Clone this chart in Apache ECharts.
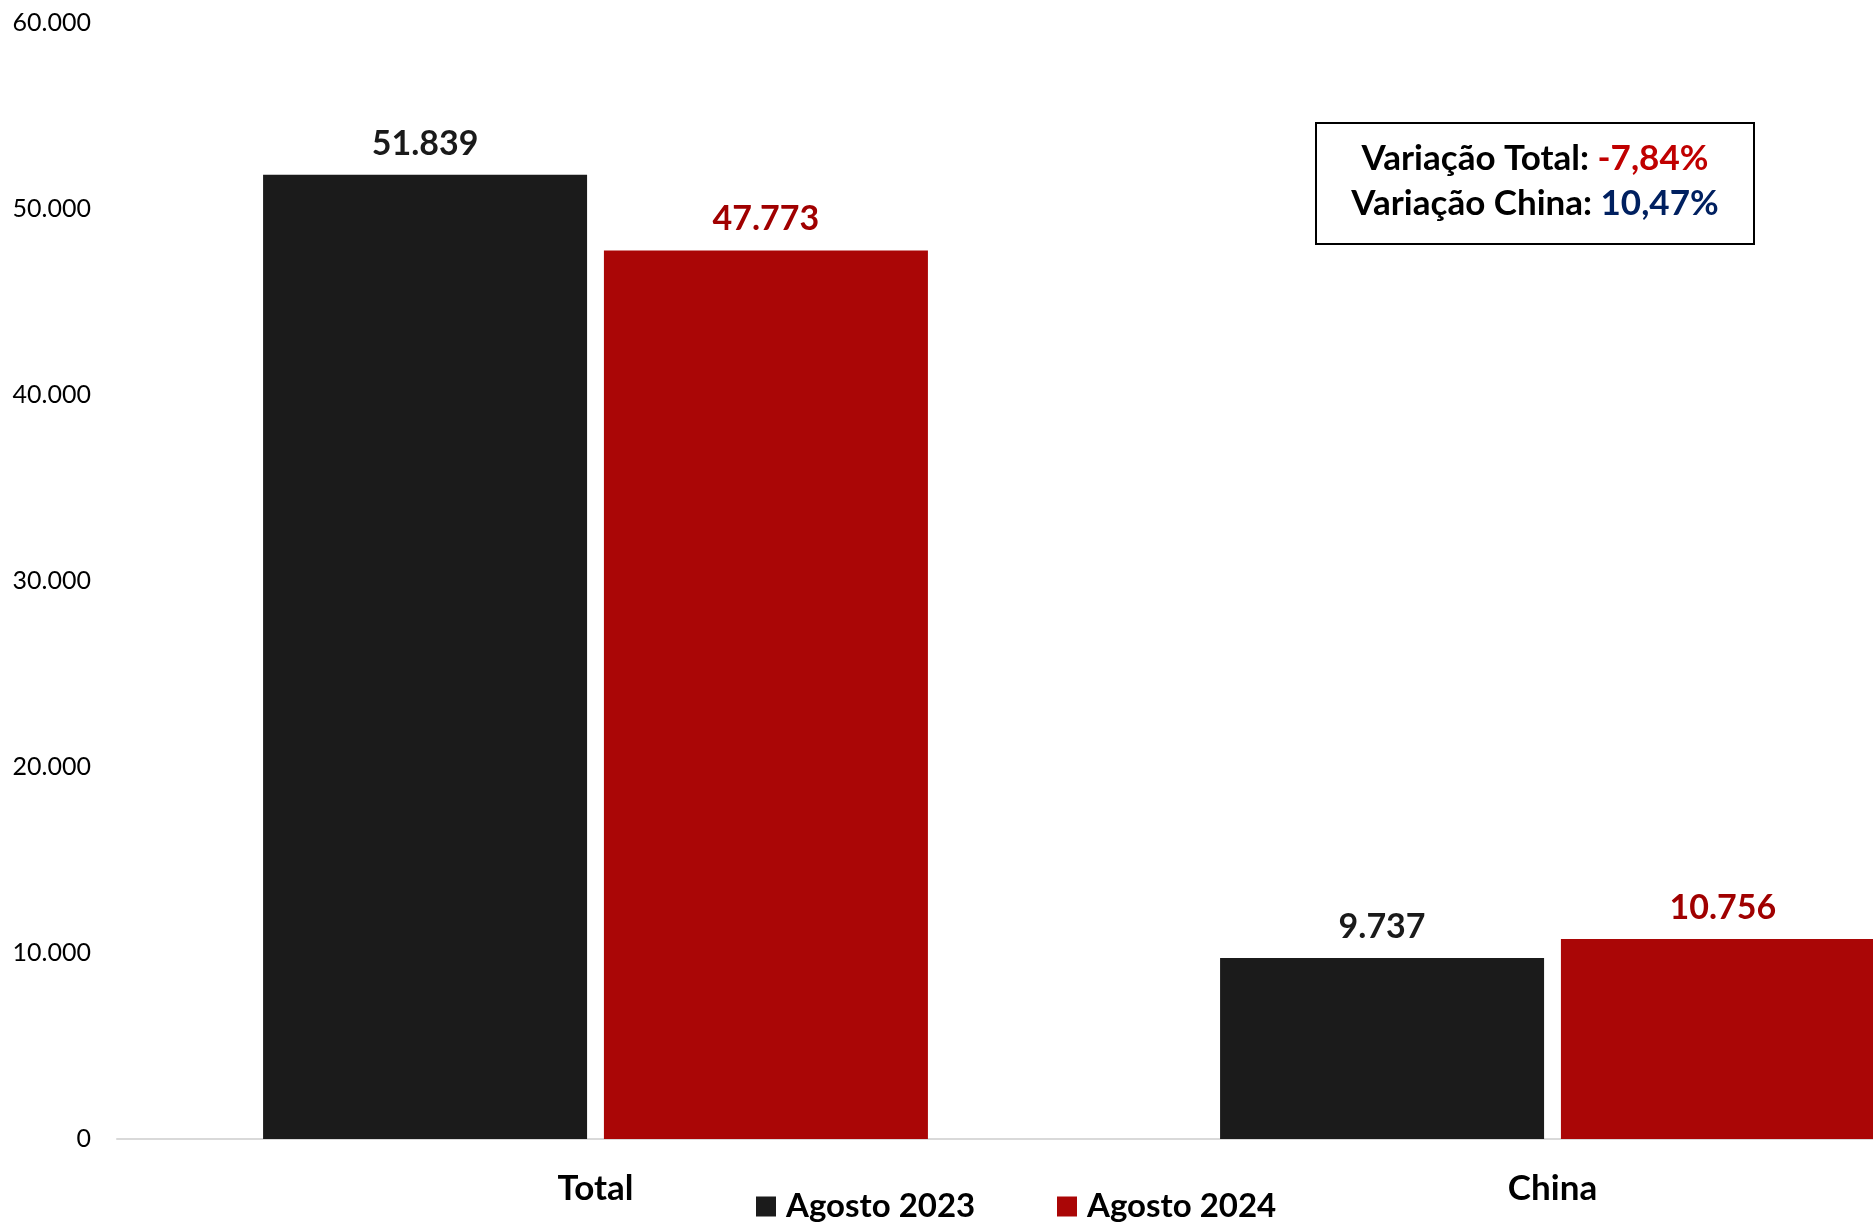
<!DOCTYPE html>
<html>
<head>
<meta charset="utf-8">
<script src="https://cdn.jsdelivr.net/npm/echarts@6/dist/echarts.min.js"></script>
<style>
html,body{margin:0;padding:0;background:#fff;}
#chart{width:1873px;height:1226px;}
</style>
</head>
<body>
<div id="chart"></div>
<script>
const categories = ['Total', 'China'];
const agosto2023 = [51839, 9737];
const agosto2024 = [47773, 10756];
const seriesNames = ['Agosto 2023', 'Agosto 2024'];
const yTicks = { min: 0, max: 60000, interval: 10000 };
const noteLines = [
  ['Variação Total: ', '-7,84%'],
  ['Variação China: ', '10,47%']
];

const FONT = "Lato, 'Noto Sans', sans-serif";
function fmt(v) {
  return String(Math.round(v)).replace(/\B(?=(\d{3})+(?!\d))/g, '.');
}

const legendText = { fontFamily: FONT, fontWeight: 'bold', fontSize: 33, color: '#000', padding: [0, 0, 0, 5] };

const chart = echarts.init(document.getElementById('chart'), null, { renderer: 'canvas' });
chart.setOption({
  animation: false,
  backgroundColor: '#ffffff',
  grid: { left: 117, top: 23, width: 1914, height: 1116, containLabel: false, outerBoundsMode: 'none' },
  legend: [
    {
      left: 756, top: 1190, padding: 0, itemWidth: 20, itemHeight: 20, icon: 'rect',
      data: [seriesNames[0]], textStyle: legendText
    },
    {
      left: 1057, top: 1190, padding: 0, itemWidth: 20, itemHeight: 20, icon: 'rect',
      data: [seriesNames[1]], textStyle: legendText
    }
  ],
  xAxis: {
    type: 'category',
    data: categories,
    axisLine: { show: true, lineStyle: { color: '#d9d9d9', width: 2 } },
    axisTick: { show: false },
    axisLabel: { margin: 32, fontFamily: FONT, fontWeight: 'bold', fontSize: 35, color: '#000' },
    splitLine: { show: false }
  },
  yAxis: {
    type: 'value',
    min: yTicks.min, max: yTicks.max, interval: yTicks.interval,
    axisLine: { show: false },
    axisTick: { show: false },
    splitLine: { show: false },
    axisLabel: { margin: 26, fontFamily: FONT, fontSize: 25, color: '#000', formatter: fmt }
  },
  series: [
    {
      name: seriesNames[0], type: 'bar', data: agosto2023,
      barWidth: 324, barGap: '5.2%',
      itemStyle: { color: '#1b1b1b' },
      label: { show: true, position: 'top', distance: 14, formatter: p => fmt(p.value),
        fontFamily: FONT, fontWeight: 'bold', fontSize: 34, color: '#1a1a1a' }
    },
    {
      name: seriesNames[1], type: 'bar', data: agosto2024,
      barWidth: 324,
      itemStyle: { color: '#aa0606' },
      label: { show: true, position: 'top', distance: 14, formatter: p => fmt(p.value),
        fontFamily: FONT, fontWeight: 'bold', fontSize: 34, color: '#a00000' }
    }
  ],
  graphic: [
    {
      type: 'rect', left: 1315, top: 122, z: 10,
      shape: { width: 438, height: 121 },
      style: { fill: '#fff', stroke: '#000', lineWidth: 2 }
    },
    {
      type: 'text', z: 11, x: 1535, y: 159,
      style: {
        text: '{a|' + noteLines[0][0] + '}{r|' + noteLines[0][1] + '}',
        align: 'center', verticalAlign: 'middle',
        rich: {
          a: { fontFamily: FONT, fontWeight: 'bold', fontSize: 35, fill: '#000' },
          r: { fontFamily: FONT, fontWeight: 'bold', fontSize: 35, fill: '#c00000' }
        }
      }
    },
    {
      type: 'text', z: 11, x: 1535, y: 204,
      style: {
        text: '{a|' + noteLines[1][0] + '}{b|' + noteLines[1][1] + '}',
        align: 'center', verticalAlign: 'middle',
        rich: {
          a: { fontFamily: FONT, fontWeight: 'bold', fontSize: 35, fill: '#000' },
          b: { fontFamily: FONT, fontWeight: 'bold', fontSize: 35, fill: '#002060' }
        }
      }
    }
  ]
});
</script>
</body>
</html>
